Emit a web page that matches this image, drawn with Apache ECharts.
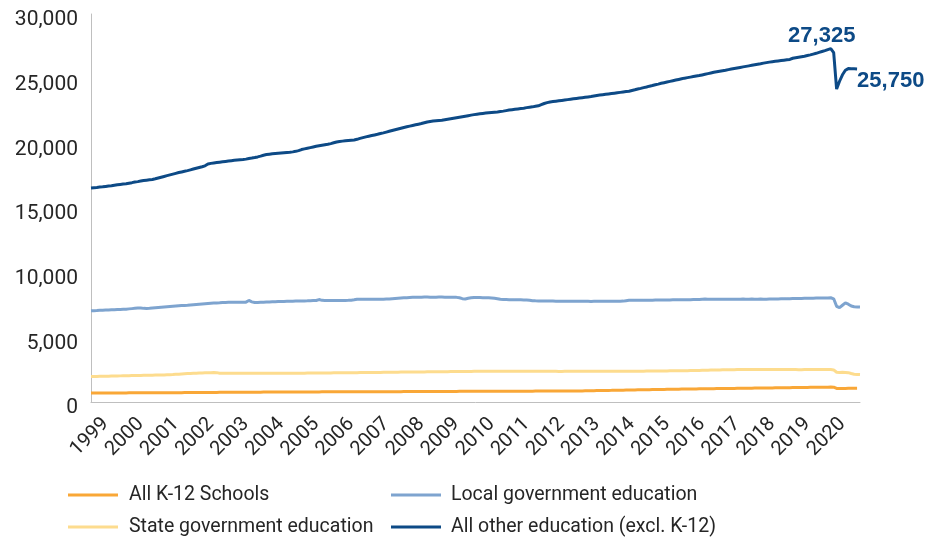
<!DOCTYPE html>
<html>
<head>
<meta charset="utf-8">
<script src="https://cdn.jsdelivr.net/npm/echarts@6/dist/echarts.min.js"></script>
<style>
html,body{margin:0;padding:0;background:#fff;}
#chart{width:930px;height:543px;}
</style>
</head>
<body>
<div id="chart"></div>
<script>
// Years shown on the axis (monthly data, Jan 1999 - Dec 2020)
const years = [1999,2000,2001,2002,2003,2004,2005,2006,2007,2008,2009,2010,2011,2012,2013,2014,2015,2016,2017,2018,2019,2020];
const seriesNames = ["All K-12 Schools", "Local government education", "State government education", "All other education (excl. K-12)"];

// All K-12 Schools (thousands), Jan 1999 - Nov 2020
const k12 = [
 690,690,692,694,695,697,698,700,701,702,703,704,
 705,706,707,708,709,710,711,712,713,714,715,716,
 717,718,719,720,721,722,723,724,725,726,727,728,
 730,732,734,736,738,740,742,744,746,748,750,752,
 753,754,755,756,757,758,759,760,761,762,763,764,
 765,766,767,768,769,770,771,772,773,774,775,776,
 776,777,778,779,780,781,782,783,784,785,786,787,
 787,788,789,790,790,791,792,792,793,794,795,795,
 796,796,797,797,798,799,799,800,800,801,802,803,
 804,805,806,807,808,809,810,811,812,813,814,815,
 816,817,818,819,820,821,822,823,824,825,826,827,
 828,828,829,829,830,830,831,831,832,832,833,834,
 834,835,836,836,837,838,839,840,841,842,842,843,
 844,845,846,847,848,849,850,851,852,853,855,857,
 860,864,868,872,876,880,884,888,892,896,900,905,
 910,914,918,922,926,930,934,938,942,946,950,954,
 958,962,966,970,974,978,982,986,990,994,998,1002,
 1005,1008,1011,1014,1017,1020,1023,1026,1029,1032,1035,1038,
 1041,1044,1047,1050,1053,1056,1059,1062,1065,1068,1071,1074,
 1077,1080,1083,1086,1089,1092,1095,1098,1101,1104,1107,1110,
 1113,1116,1119,1122,1125,1128,1131,1134,1137,1140,1143,1146,
 1150,1160,1150,1050,1040,1045,1050,1055,1058,1060,1060
];

// Local government education, Jan 1999 - Dec 2020
const localEdu = [
 7050,7060,7070,7085,7100,7110,7120,7130,7140,7150,7160,7170,
 7180,7200,7220,7240,7260,7270,7240,7230,7240,7260,7280,7300,
 7320,7340,7360,7380,7400,7420,7440,7460,7470,7480,7500,7520,
 7540,7560,7580,7600,7620,7640,7650,7660,7670,7690,7700,7705,
 7705,7710,7710,7715,7715,7720,7850,7740,7690,7700,7710,7720,
 7730,7740,7750,7760,7770,7775,7780,7785,7790,7795,7800,7805,
 7810,7815,7820,7830,7840,7845,7920,7860,7850,7850,7845,7850,
 7850,7850,7855,7855,7860,7870,7900,7950,7940,7945,7950,7950,
 7950,7950,7945,7950,7950,7955,7960,7980,8000,8020,8040,8060,
 8070,8080,8090,8095,8100,8100,8110,8110,8100,8100,8105,8110,
 8110,8105,8100,8100,8100,8090,8060,7990,7970,8020,8060,8080,
 8080,8075,8070,8065,8060,8040,8020,7990,7940,7920,7920,7915,
 7910,7905,7900,7900,7895,7890,7870,7830,7820,7815,7810,7810,
 7805,7800,7800,7795,7795,7790,7790,7790,7790,7785,7785,7790,
 7790,7785,7785,7780,7785,7790,7790,7790,7790,7795,7795,7790,
 7790,7795,7800,7830,7860,7870,7865,7860,7860,7865,7870,7870,
 7875,7880,7880,7885,7890,7890,7895,7900,7900,7905,7910,7910,
 7915,7915,7920,7925,7930,7950,7955,7950,7945,7945,7950,7950,
 7950,7950,7945,7950,7950,7945,7950,7955,7950,7950,7955,7950,
 7950,7955,7950,7950,7955,7960,7965,7970,7975,7980,7985,7990,
 7995,8000,8005,8010,8015,8020,8025,8030,8035,8040,8045,8050,
 8050,8060,7980,7400,7290,7480,7660,7560,7420,7360,7350,7340
];

// State government education, Jan 1999 - Dec 2020
const stateEdu = [
 1970,1975,1980,1985,1990,1995,2000,2005,2010,2015,2020,2025,
 2030,2035,2040,2045,2050,2055,2060,2065,2070,2075,2080,2085,
 2090,2095,2105,2115,2125,2140,2155,2170,2185,2200,2210,2220,
 2230,2240,2250,2255,2260,2265,2275,2270,2230,2220,2220,2220,
 2220,2225,2225,2230,2230,2230,2225,2225,2230,2230,2225,2225,
 2220,2220,2220,2215,2215,2220,2220,2220,2225,2225,2225,2230,
 2230,2230,2235,2235,2240,2240,2245,2245,2250,2250,2250,2255,
 2255,2260,2260,2265,2265,2270,2270,2270,2275,2275,2280,2280,
 2285,2285,2290,2290,2295,2295,2300,2300,2305,2305,2310,2310,
 2315,2315,2320,2320,2320,2325,2325,2330,2330,2335,2335,2340,
 2340,2345,2345,2350,2350,2355,2355,2360,2360,2365,2365,2370,
 2370,2375,2375,2375,2380,2380,2375,2380,2380,2375,2375,2375,
 2375,2375,2370,2370,2370,2375,2375,2370,2370,2370,2375,2375,
 2375,2375,2370,2370,2365,2365,2370,2370,2375,2375,2370,2370,
 2370,2370,2375,2375,2375,2380,2380,2375,2375,2375,2380,2380,
 2375,2375,2375,2380,2380,2380,2380,2385,2385,2385,2390,2390,
 2395,2395,2400,2400,2405,2405,2410,2410,2415,2415,2420,2420,
 2425,2430,2435,2440,2445,2450,2455,2460,2465,2470,2475,2480,
 2485,2490,2495,2500,2500,2505,2505,2505,2505,2505,2510,2510,
 2510,2510,2505,2505,2505,2505,2510,2510,2510,2505,2505,2505,
 2505,2505,2500,2500,2505,2505,2505,2505,2510,2510,2505,2505,
 2505,2505,2480,2300,2290,2300,2290,2270,2200,2150,2130,2120
];

// All other education (excl. K-12), Jan 1999 - Nov 2020
const otherEdu = [
 16550,16570,16590,16620,16640,16670,16700,16720,16760,16790,16820,16850,
 16880,16920,16960,17010,17040,17080,17120,17150,17180,17210,17260,17320,
 17380,17440,17500,17560,17620,17680,17740,17790,17840,17890,17950,18010,
 18070,18130,18190,18260,18400,18450,18480,18510,18540,18570,18600,18630,
 18660,18690,18710,18730,18750,18780,18830,18860,18900,18950,19010,19080,
 19130,19160,19190,19210,19230,19250,19270,19290,19310,19340,19380,19440,
 19520,19570,19620,19670,19720,19770,19810,19850,19890,19930,19980,20040,
 20100,20140,20170,20200,20220,20240,20260,20310,20380,20440,20500,20550,
 20600,20650,20700,20760,20810,20870,20930,20990,21050,21110,21170,21230,
 21280,21330,21380,21430,21480,21530,21590,21650,21690,21720,21740,21760,
 21780,21820,21860,21900,21940,21980,22020,22060,22100,22140,22180,22220,
 22250,22280,22310,22340,22370,22390,22410,22430,22460,22490,22530,22570,
 22600,22630,22660,22690,22720,22760,22790,22820,22860,22900,22990,23080,
 23150,23200,23230,23260,23290,23320,23350,23380,23410,23440,23470,23500,
 23530,23560,23590,23620,23660,23700,23730,23760,23790,23820,23850,23880,
 23910,23940,23970,24000,24030,24090,24140,24200,24250,24310,24360,24420,
 24470,24530,24580,24640,24690,24740,24790,24840,24890,24940,24990,25040,
 25080,25120,25160,25200,25240,25290,25340,25390,25440,25490,25530,25570,
 25610,25650,25700,25750,25790,25830,25870,25910,25950,25990,26030,26070,
 26110,26150,26200,26240,26280,26310,26340,26370,26400,26430,26460,26490,
 26580,26620,26660,26700,26740,26790,26840,26900,26960,27030,27100,27170,
 27250,27325,27020,24200,24800,25300,25650,25780,25770,25760,25750
];

const colors = ["#F9A737", "#7EA4CF", "#FDDC8E", "#0D4A86"];
const LABEL_MONTH = 5;

const months = [];
years.forEach(y => { for (let m = 1; m <= 12; m++) months.push(y + "-" + (m < 10 ? "0" + m : m)); });

const FONT = 'Roboto, "Liberation Sans", sans-serif';
const BOLD_FONT = '"Liberation Sans", Arial, sans-serif';
const fmt = v => Number(v).toLocaleString('en-US');

const chart = echarts.init(document.getElementById('chart'), null, {renderer: 'canvas'});

function lineSeries(name, data, color, extra) {
  return Object.assign({
    name: name, type: 'line', data: data, showSymbol: false, symbol: 'none',
    lineStyle: {color: color, width: 3}, itemStyle: {color: color},
    emphasis: {disabled: true}, animation: false, z: 2
  }, extra || {});
}

function legendCol(items, left, gap) {
  return {
    data: items, orient: 'vertical', left: left, top: 484, padding: 0,
    icon: 'rect', itemWidth: 50, itemHeight: 3, itemGap: 10,
    textStyle: {fontFamily: FONT, fontSize: 19.5, color: '#262626', lineHeight: 22, padding: [0, 0, 0, gap]},
    selectedMode: false
  };
}

const option = {
  animation: false,
  backgroundColor: '#fff',
  grid: {left: 91, right: 70, top: 14, bottom: 141, containLabel: false},
  xAxis: {
    type: 'category', data: months, boundaryGap: false,
    axisLine: {show: true, lineStyle: {color: '#BFBFBF', width: 1}},
    axisTick: {show: false},
    splitLine: {show: false},
    axisLabel: {
      interval: (i) => i % 12 === LABEL_MONTH,
      formatter: v => v.slice(0, 4),
      rotate: 45, margin: 19,
      fontFamily: FONT, fontSize: 20, color: '#262626'
    }
  },
  yAxis: {
    type: 'value', min: 0, max: 30000, interval: 5000,
    axisLine: {show: true, lineStyle: {color: '#BFBFBF', width: 1}},
    axisTick: {show: false},
    splitLine: {show: false},
    axisLabel: {formatter: fmt, margin: 13, fontFamily: FONT, fontSize: 21, color: '#262626',
      verticalAlign: 'top', lineHeight: 12}
  },
  legend: [
    legendCol([seriesNames[0], seriesNames[2]], 68, 6),
    legendCol([seriesNames[1], seriesNames[3]], 391, 5)
  ],
  series: [
    lineSeries(seriesNames[0], k12, colors[0]),
    lineSeries(seriesNames[1], localEdu, colors[1]),
    lineSeries(seriesNames[2], stateEdu, colors[2]),
    lineSeries(seriesNames[3], otherEdu, colors[3], {
      z: 3,
      endLabel: {
        show: true, formatter: p => fmt(p.value), distance: 0, offset: [0, 12],
        fontFamily: BOLD_FONT, fontWeight: 'bold', fontSize: 22, color: colors[3]
      },
      markPoint: {
        symbol: 'circle', symbolSize: 0, silent: true, animation: false,
        itemStyle: {color: 'rgba(0,0,0,0)'},
        label: {
          show: true, position: 'top', distance: 2, offset: [-9, 0],
          formatter: p => fmt(p.value),
          fontFamily: BOLD_FONT, fontWeight: 'bold', fontSize: 22, color: colors[3]
        },
        data: [{type: 'max'}]
      }
    })
  ]
};
chart.setOption(option);
</script>
</body>
</html>
